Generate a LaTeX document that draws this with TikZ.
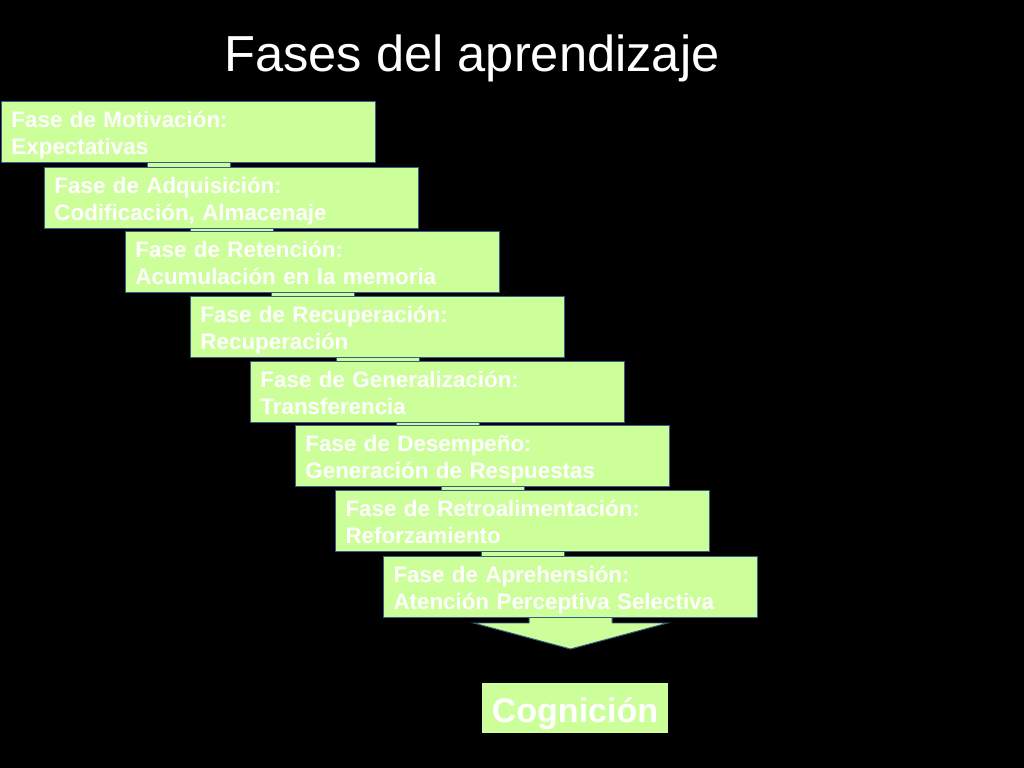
\documentclass[tikz,border=0pt]{standalone}
\usepackage{fontspec}
\setmainfont{Liberation Sans}
\usetikzlibrary{positioning,calc,backgrounds}
\definecolor{boxgreen}{RGB}{204,255,153}
\definecolor{boxline}{RGB}{56,93,138}

\begin{document}
\begin{tikzpicture}[x=0.025cm, y=-0.025cm,
    fase/.style={draw=boxline, line width=0.7pt, fill=boxgreen, anchor=north west,
        minimum width=9.35cm, minimum height=1.525cm, text width=8.85cm,
        text height=0.65cm, text depth=0.875cm,
        inner xsep=0.25cm, inner ysep=0pt, align=left, text=white,
        font=\bfseries\fontsize{15.9}{19.1}\selectfont},
    stem/.style={draw=boxline, line width=0.7pt, fill=boxgreen}]
    \useasboundingbox (0,0) rectangle (1024,768);

    \node[text=white, font=\fontsize{36}{43}\selectfont, anchor=base] (titulo) at (472,72) {Fases del aprendizaje};

    \node[fase] (f1) at (1,101) {Fase de Motivación:\\Expectativas};
    \node[fase] (f2) at (44,167) {Fase de Adquisición:\\Codificación, Almacenaje};
    \node[fase] (f3) at (125,231) {Fase de Retención:\\Acumulación en la memoria};
    \node[fase] (f4) at (190,296) {Fase de Recuperación:\\Recuperación};
    \node[fase] (f5) at (250,361) {Fase de Generalización:\\Transferencia};
    \node[fase] (f6) at (295,425) {Fase de Desempeño:\\Generación de Respuestas};
    \node[fase] (f7) at (335,490) {Fase de Retroalimentación:\\Reforzamiento};
    \node[fase] (f8) at (383,556) {Fase de Aprehensión:\\Atención Perceptiva Selectiva};

    \node[fill=boxgreen, minimum width=4.65cm, minimum height=1.25cm, inner sep=0pt,
        text height=0.975cm, text depth=0.275cm, text=white,
        font=\bfseries\fontsize{24.2}{29}\selectfont] (cog) at (575,708) {Cognición};

    \begin{scope}[on background layer]
        \fill[black] (0,0) rectangle (1024,768);
        % stems behind the boxes
        \foreach \a/\b in {f1/f2,f2/f3,f3/f4,f4/f5,f5/f6,f6/f7,f7/f8}
            \draw[stem] ($(\a.south)+(-41.5,-5)$) rectangle ($(\a.south |- \b.north)+(41.5,5)$);
        % big arrow towards Cognicion
        \draw[stem] ($(f8.south)+(-41.5,-5)$) -- ($(f8.south)+(-41.5,5)$) -- ($(f8.south)+(-97,5)$)
            -- ($(f8.south)+(0,31)$) -- ($(f8.south)+(97,5)$) -- ($(f8.south)+(41.5,5)$)
            -- ($(f8.south)+(41.5,-5)$) -- cycle;
    \end{scope}
\end{tikzpicture}
\end{document}
